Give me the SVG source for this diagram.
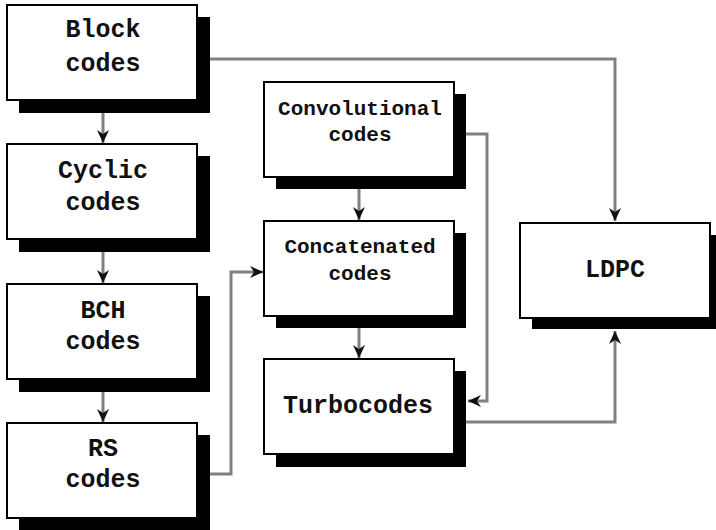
<svg xmlns="http://www.w3.org/2000/svg" width="716" height="530" viewBox="0 0 716 530">
<style>
.box{fill:#fff;stroke:#000;stroke-width:2}
.sh{fill:#000}
.t{font-family:"Liberation Mono","Courier New",monospace;font-weight:bold;text-anchor:middle;fill:#111}
.big{font-size:25px}
.small{font-size:21px}
.c{fill:none;stroke:#808080;stroke-width:3;marker-end:url(#ah)}
</style>
<defs>
<marker id="ah" markerUnits="userSpaceOnUse" markerWidth="14" markerHeight="12" refX="13" refY="6" orient="auto">
<path d="M0,0 L13,6 L0,12 L4,6 z" fill="#111"/>
</marker>
</defs>
<rect width="716" height="530" fill="#fff"/>
<g id="connectors">
<path class="c" d="M103,112 V143"/>
<path class="c" d="M103,251 V283"/>
<path class="c" d="M103,391 V422"/>
<path class="c" d="M359,189 V220"/>
<path class="c" d="M359,328 V358"/>
<path class="c" d="M209,59 H615 V221"/>
<path class="c" d="M466,134 H487 V401 H468"/>
<path class="c" d="M209,474 H231 V272 H263"/>
<path class="c" d="M466,422 H615 V331"/>
</g>
<g id="block">
<rect class="sh" x="19" y="17" width="191" height="96"/>
<rect class="box" x="7" y="5" width="190" height="95"/>
<text class="t big" x="103" y="37">Block</text>
<text class="t big" x="103" y="71">codes</text>
</g>
<g id="cyclic">
<rect class="sh" x="19" y="156" width="191" height="96"/>
<rect class="box" x="7" y="144" width="190" height="95"/>
<text class="t big" x="103" y="178">Cyclic</text>
<text class="t big" x="103" y="210">codes</text>
</g>
<g id="bch">
<rect class="sh" x="19" y="296" width="191" height="96"/>
<rect class="box" x="7" y="284" width="190" height="95"/>
<text class="t big" x="103" y="318">BCH</text>
<text class="t big" x="103" y="349">codes</text>
</g>
<g id="rs">
<rect class="sh" x="19" y="435" width="191" height="96"/>
<rect class="box" x="7" y="423" width="190" height="95"/>
<text class="t big" x="103" y="456">RS</text>
<text class="t big" x="103" y="487">codes</text>
</g>
<g id="convolutional">
<rect class="sh" x="276" y="94" width="190" height="95"/>
<rect class="box" x="264" y="82" width="190" height="95"/>
<text class="t small" x="360" y="115">Convolutional</text>
<text class="t small" x="360" y="141">codes</text>
</g>
<g id="concatenated">
<rect class="sh" x="276" y="233" width="190" height="95"/>
<rect class="box" x="264" y="221" width="190" height="95"/>
<text class="t small" x="360" y="253">Concatenated</text>
<text class="t small" x="360" y="280">codes</text>
</g>
<g id="turbocodes">
<rect class="sh" x="276" y="371" width="190" height="96"/>
<rect class="box" x="264" y="359" width="190" height="95"/>
<text class="t big" x="358" y="413">Turbocodes</text>
</g>
<g id="ldpc">
<rect class="sh" x="532" y="235" width="190" height="94"/>
<rect class="box" x="520" y="223" width="190" height="95"/>
<text class="t big" x="615" y="277">LDPC</text>
</g>
</svg>
